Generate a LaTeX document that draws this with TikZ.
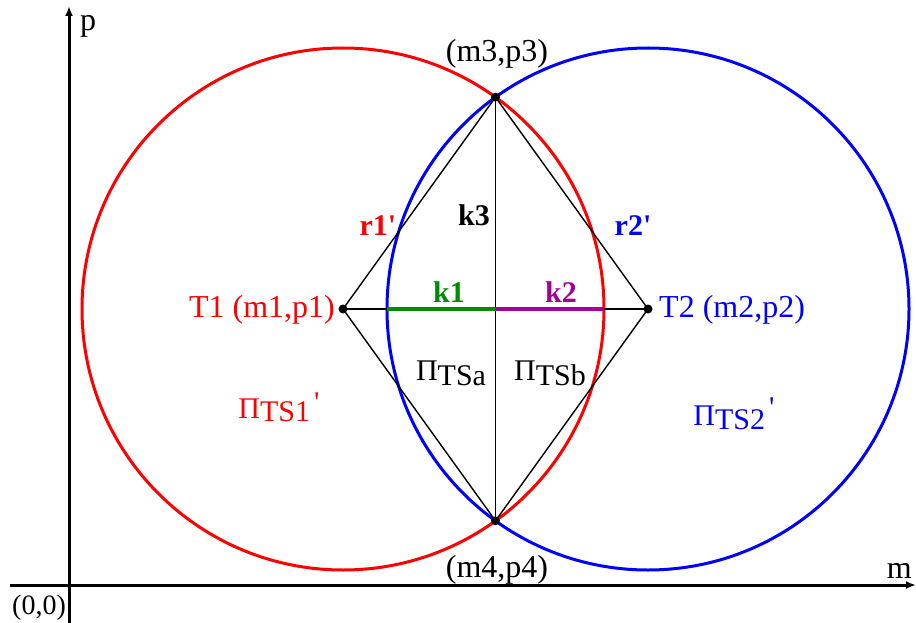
\documentclass[tikz,border=0pt]{standalone}
\usepackage{fontspec}
\setmainfont{Liberation Serif}
\usetikzlibrary{arrows.meta}
\definecolor{kgreen}{RGB}{0,140,0}
\definecolor{kpurple}{RGB}{165,0,150}
\begin{document}
\begin{tikzpicture}[x=1pt,y=-1pt,
  lbl/.style={font=\fontsize{32}{36}\selectfont, inner sep=0pt, anchor=base},
  plbl/.style={font=\fontsize{30}{34}\selectfont, inner sep=0pt, anchor=base},
  blbl/.style={font=\fontsize{30}{34}\selectfont\bfseries, inner sep=0pt, anchor=base},
  dotnode/.style={circle, fill=black, inner sep=0pt, minimum size=9pt},
  segline/.style={black, line width=1.4pt},
  axisline/.style={black, line width=3pt, -{Latex[length=10pt,width=8pt]}},
  circline/.style={line width=3pt}]
\useasboundingbox (0,0) rectangle (916,623);
% axes
\coordinate (ybot) at (69,623);
\coordinate (ytop) at (69,6);
\coordinate (xleft) at (10,585);
\coordinate (xright) at (916,585);
\draw[axisline] (ybot) -- (ytop);
\draw[axisline] (xleft) -- (xright);
% points
\coordinate (T1) at (343,309);
\coordinate (T2) at (648,309);
\coordinate (P3) at (495.5,97.2);
\coordinate (P4) at (495.5,520.8);
\coordinate (M) at (495.5,309);
\coordinate (G1) at (387,309);
\coordinate (G2) at (604,309);
% circles
\draw[circline, red] (T1) circle[radius=261pt];
\draw[circline, blue] (T2) circle[radius=261pt];
% black lines
\draw[segline] (T1) -- (P3) -- (T2) -- (P4) -- cycle;
\draw[segline] (P3) -- (P4);
\draw[segline] (T1) -- (T2);
\draw[line width=3.5pt, kgreen] (G1) -- (M);
\draw[line width=3.5pt, kpurple] (M) -- (G2);
% dots
\node[dotnode] (d1) at (T1) {};
\node[dotnode] (d2) at (T2) {};
\node[dotnode] (d3) at (P3) {};
\node[dotnode] (d4) at (P4) {};
% labels
\node[lbl] (l3) at (497,62) {(m3,p3)};
\node[lbl] (l4) at (497,577) {(m4,p4)};
\node[lbl, anchor=base east, red] (l1) at (335,317) {T1 (m1,p1)};
\node[lbl, anchor=base west, blue] (l2) at (659,317) {T2 (m2,p2)};
\node[blbl, red] (r1) at (378,235) {r1\textquotesingle};
\node[blbl, blue] (r2) at (633,235) {r2\textquotesingle};
\node[blbl] (k3) at (474,225) {k3};
\node[blbl, kgreen] (k1) at (449,302) {k1};
\node[blbl, kpurple] (k2) at (561,302) {k2};
\node[plbl] (pa) at (451,380) {Π\raisebox{-5pt}{TSa}};
\node[plbl] (pb) at (550,380) {Π\raisebox{-5pt}{TSb}};
\node[plbl, red] (p1) at (279,418) {Π\raisebox{-3pt}{TS1}\hspace{4pt}\raisebox{6pt}{\fontsize{30}{32}\selectfont\textquotesingle}};
\node[plbl, blue] (p2) at (734,425) {Π\raisebox{-4pt}{TS2}\hspace{4pt}\raisebox{8pt}{\fontsize{30}{32}\selectfont\textquotesingle}};
\node[lbl, anchor=base west] (pl) at (80,31) {p};
\node[lbl, anchor=base east] (ml) at (912,578) {m};
\node[plbl, anchor=base west, font=\fontsize{28}{30}\selectfont] (ol) at (12,614) {(0,0)};
\end{tikzpicture}
\end{document}
